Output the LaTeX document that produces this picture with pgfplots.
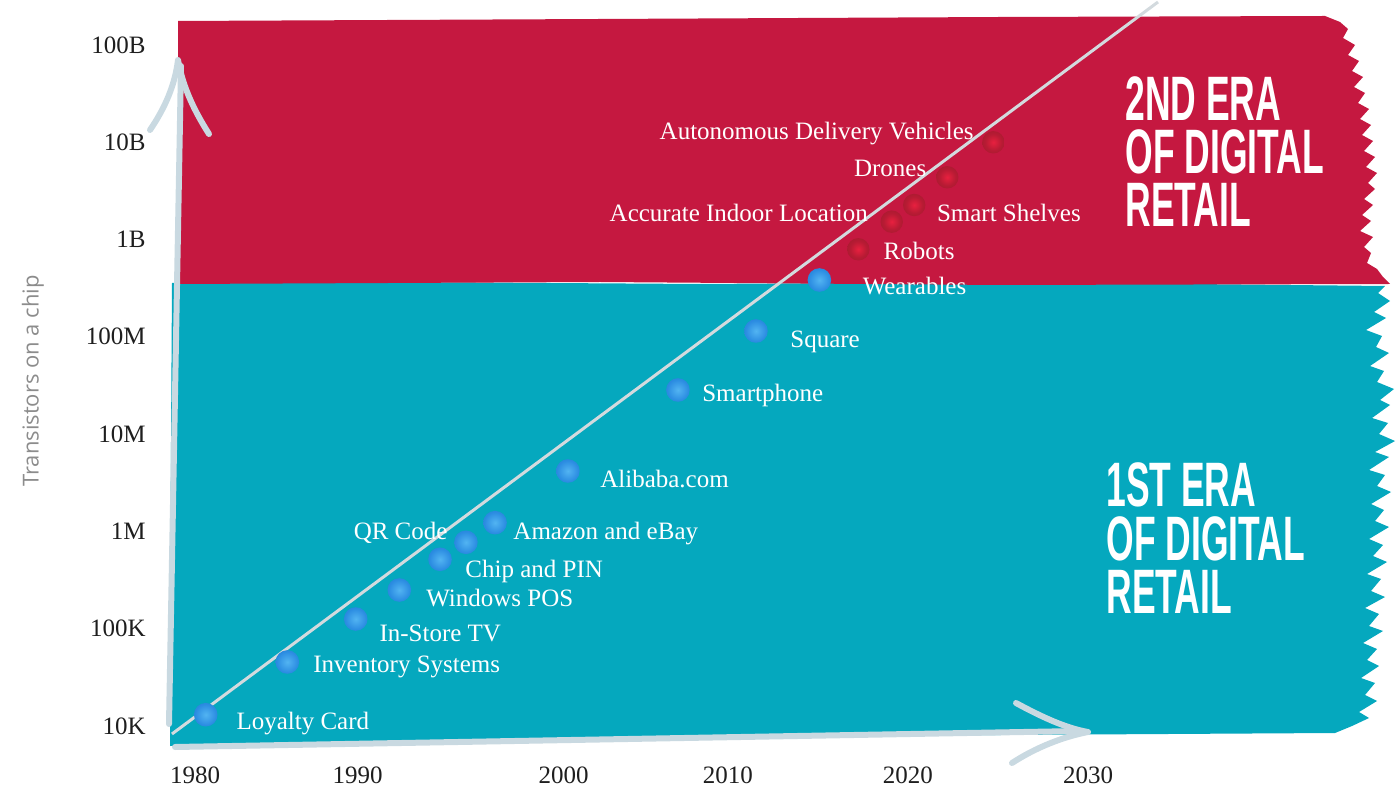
\documentclass[border=0pt]{standalone}
\usepackage{pgfplots}
\pgfplotsset{compat=1.18}
\usepackage{graphicx}
\usepackage{fontspec}
\setmainfont{Liberation Serif}
\newfontfamily\opensans{Open Sans}
\newfontfamily\erafont{Liberation Sans}
\definecolor{eraRed}{HTML}{C51840}
\definecolor{eraTeal}{HTML}{05A8BE}
\definecolor{arrowgray}{HTML}{C9D9E1}
\definecolor{linegray}{HTML}{D3DADE}
\definecolor{tickgray}{HTML}{1E1E1E}
\definecolor{labgray}{HTML}{8C8C8C}
\definecolor{bcen}{HTML}{52B4F2}
\definecolor{bmid}{HTML}{2C8DE2}
\definecolor{bedge}{HTML}{1E66C4}
\definecolor{rcen}{HTML}{E8203F}
\definecolor{rmid}{HTML}{B81B34}
\definecolor{redge}{HTML}{8C1A28}
\pgfdeclareradialshading{bshade}{\pgfpoint{0bp}{0bp}}{color(0bp)=(bcen); color(22bp)=(bmid); color(50bp)=(bedge)}
\pgfdeclareradialshading{rshade}{\pgfpoint{0bp}{0bp}}{color(0bp)=(rcen); color(18bp)=(rmid); color(50bp)=(redge)}
\pgfdeclareplotmark{bball}{\pgfpathcircle{\pgfpointorigin}{\pgfplotmarksize}\pgfshadepath{bshade}{0}\pgfusepath{discard}}
\pgfdeclareplotmark{rball}{\pgfpathcircle{\pgfpointorigin}{\pgfplotmarksize}\pgfshadepath{rshade}{0}\pgfusepath{discard}}
\tikzset{lab/.style={text=white, inner sep=0pt, font=\fontsize{12.5}{15}\selectfont}}
\newcommand{\era}[1]{{\erafont\bfseries\fontsize{31.4}{36}\selectfont\scalebox{0.565}[1]{#1}}}
\begin{document}
\begin{tikzpicture}
% decorative background in pixel units of the reference
\begin{scope}[x=0.5pt, y=-0.5pt, shift={(-82.5pt,375pt)}]
\fill[eraTeal] (172,283) -- (400,282) -- (700,284) -- (1000,282) -- (1385,286)
 -- (1378,293) -- (1390,301) -- (1374,312) -- (1386,318) -- (1366,330) -- (1382,336) -- (1376,347) -- (1389,353) -- (1370,366) -- (1384,371) -- (1377,382) -- (1394,389) -- (1380,400) -- (1390,405) -- (1372,418) -- (1388,423) -- (1379,434) -- (1395,441) -- (1375,452) -- (1389,457) -- (1369,470) -- (1385,475) -- (1377,486) -- (1391,492) -- (1371,504) -- (1384,510) -- (1375,521) -- (1389,527) -- (1369,539) -- (1383,545) -- (1373,556) -- (1387,562) -- (1367,574) -- (1381,579) -- (1371,591) -- (1385,597) -- (1365,608) -- (1379,614) -- (1369,626) -- (1383,631) -- (1363,643) -- (1377,649) -- (1367,660) -- (1379,666) -- (1361,678) -- (1375,683) -- (1365,695) -- (1377,701) -- (1359,712) -- (1369,718) -- (1352,726) -- (1335,733)
 -- (1000,735) -- (600,740) -- (170,746) -- (170,600) -- cycle;
\fill[eraRed] (178,284) -- (178,21) -- (600,19) -- (1000,17) -- (1325,16)
 -- (1340,22) -- (1348,29) -- (1343,38) -- (1355,45) -- (1348,55) -- (1359,61) -- (1352,71) -- (1363,77) -- (1354,87) -- (1365,93) -- (1358,103) -- (1369,109) -- (1360,119) -- (1371,125) -- (1362,135) -- (1373,141) -- (1364,151) -- (1375,157) -- (1366,167) -- (1377,173) -- (1368,183) -- (1375,189) -- (1364,199) -- (1373,205) -- (1362,215) -- (1371,221) -- (1360,231) -- (1373,237) -- (1364,247) -- (1371,253) -- (1367,263) -- (1377,269) -- (1383,277) -- (1390,284)
 -- (1000,285) -- (600,282) -- cycle;
\draw[arrowgray, line width=3pt, line cap=round] (169,724) -- (181,66);
\draw[arrowgray, line width=3pt, line cap=round, line join=round] (150,130) .. controls (165,108) and (175,85) .. (178,60) .. controls (183,88) and (195,112) .. (209,134);
\draw[arrowgray, line width=3pt, line cap=round] (175,747) -- (1080,731);
\draw[arrowgray, line width=3pt, line cap=round, line join=round] (1016,703) .. controls (1040,716) and (1065,728) .. (1088,732) .. controls (1062,737) and (1035,748) .. (1012,763);
\end{scope}
\begin{axis}[
  at={(0,0)}, anchor=south west,
  width=615pt, height=375pt, scale only axis,
  xmin=1978.32, xmax=2047.19,
  ymode=log, log basis y=10,
  ymin=5667, ymax=2.894e11,
  axis line style={draw=none},
  tick style={draw=none},
  xtick={1980,1989.10,2000.64,2009.84,2019.92,2030},
  xticklabels={1980,1990,2000,2010,2020,2030},
  ytick={1e4,1e5,1e6,1e7,1e8,1e9,1e10,1e11},
  yticklabels={10K,100K,1M,10M,100M,1B,10B,100B},
  tick label style={font=\fontsize{12.5}{15}\selectfont, text=tickgray, inner sep=0pt},
  xticklabel style={yshift=-8pt},
  yticklabel style={xshift=-9.5pt},
  ylabel={Transistors on a chip},
  ylabel style={at={(axis description cs:-0.1073,0.492)}, anchor=center, font=\opensans\fontsize{11}{13}\selectfont, text=labgray},
  clip=false,
]
\addplot[color=linegray, line width=1.5pt] coordinates {(1978.71,8280) (2033.92,2.76e11)};
\addplot[only marks, mark=bball, mark size=5.9pt] coordinates {
(1980.60,13065) (1985.17,45500) (1989.00,1.258e5) (1991.44,2.499e5) (1993.72,5.168e5)
(1995.17,7.73e5) (1996.80,1.229e6) (2000.88,4.176e6) (2007.04,2.84e7) (2011.41,1.147e8)
(2014.96,3.835e8)};
\addplot[only marks, mark=rball, mark size=5.6pt] coordinates {
(2017.14,7.93e8) (2019.01,1.524e9) (2020.27,2.262e9) (2022.12,4.358e9) (2024.70,9.98e9)};
\node[lab, anchor=base west, xshift=15.2pt, yshift=-7.2pt] at (axis cs:1980.60,13065) {Loyalty Card};
\node[lab, anchor=base west, xshift=12.8pt, yshift=-5.5pt] at (axis cs:1985.17,45500) {Inventory Systems};
\node[lab, anchor=base west, xshift=11.7pt, yshift=-11pt] at (axis cs:1989.00,1.258e5) {In-Store TV};
\node[lab, anchor=base west, xshift=13.3pt, yshift=-8.5pt] at (axis cs:1991.44,2.499e5) {Windows POS};
\node[lab, anchor=base west, xshift=12.5pt, yshift=-9.3pt] at (axis cs:1993.72,5.168e5) {Chip and PIN};
\node[lab, anchor=base east, xshift=-9pt, yshift=1.6pt] at (axis cs:1995.17,7.73e5) {QR Code};
\node[lab, anchor=base west, xshift=9pt, yshift=-8.2pt] at (axis cs:1996.80,1.229e6) {Amazon and eBay};
\node[lab, anchor=base west, xshift=16pt, yshift=-8.5pt] at (axis cs:2000.88,4.176e6) {Alibaba.com};
\node[lab, anchor=base west, xshift=12pt, yshift=-6pt] at (axis cs:2007.04,2.84e7) {Smartphone};
\node[lab, anchor=base west, xshift=17pt, yshift=-8.5pt] at (axis cs:2011.41,1.147e8) {Square};
\node[lab, anchor=base west, xshift=21.5pt, yshift=-7.5pt] at (axis cs:2014.96,3.835e8) {Wearables};
\node[lab, anchor=base west, xshift=12.5pt, yshift=-5pt] at (axis cs:2017.14,7.93e8) {Robots};
\node[lab, anchor=base east, xshift=-11.7pt, yshift=0pt] at (axis cs:2019.01,1.524e9) {Accurate Indoor Location};
\node[lab, anchor=base west, xshift=11.2pt, yshift=-8.3pt] at (axis cs:2020.27,2.262e9) {Smart Shelves};
\node[lab, anchor=base east, xshift=-10.3pt, yshift=0.3pt] at (axis cs:2022.12,4.358e9) {Drones};
\node[lab, anchor=base east, xshift=-9.7pt, yshift=1.2pt] at (axis cs:2024.70,9.98e9) {Autonomous Delivery Vehicles};
\end{axis}
\begin{scope}[x=0.5pt, y=-0.5pt, shift={(-82.5pt,375pt)}]
\node[anchor=base west, inner sep=0pt, text=white] at (1125,121) {\era{2ND ERA}};
\node[anchor=base west, inner sep=0pt, text=white] at (1125,174) {\era{OF DIGITAL}};
\node[anchor=base west, inner sep=0pt, text=white] at (1125,227) {\era{RETAIL}};
\node[anchor=base west, inner sep=0pt, text=white] at (1106,507) {\era{1ST ERA}};
\node[anchor=base west, inner sep=0pt, text=white] at (1106,560) {\era{OF DIGITAL}};
\node[anchor=base west, inner sep=0pt, text=white] at (1106,613) {\era{RETAIL}};
\end{scope}
\pgfresetboundingbox
\path[use as bounding box] (-82.5pt,-18.5pt) rectangle (617.5pt,375pt);
\end{tikzpicture}
\end{document}
